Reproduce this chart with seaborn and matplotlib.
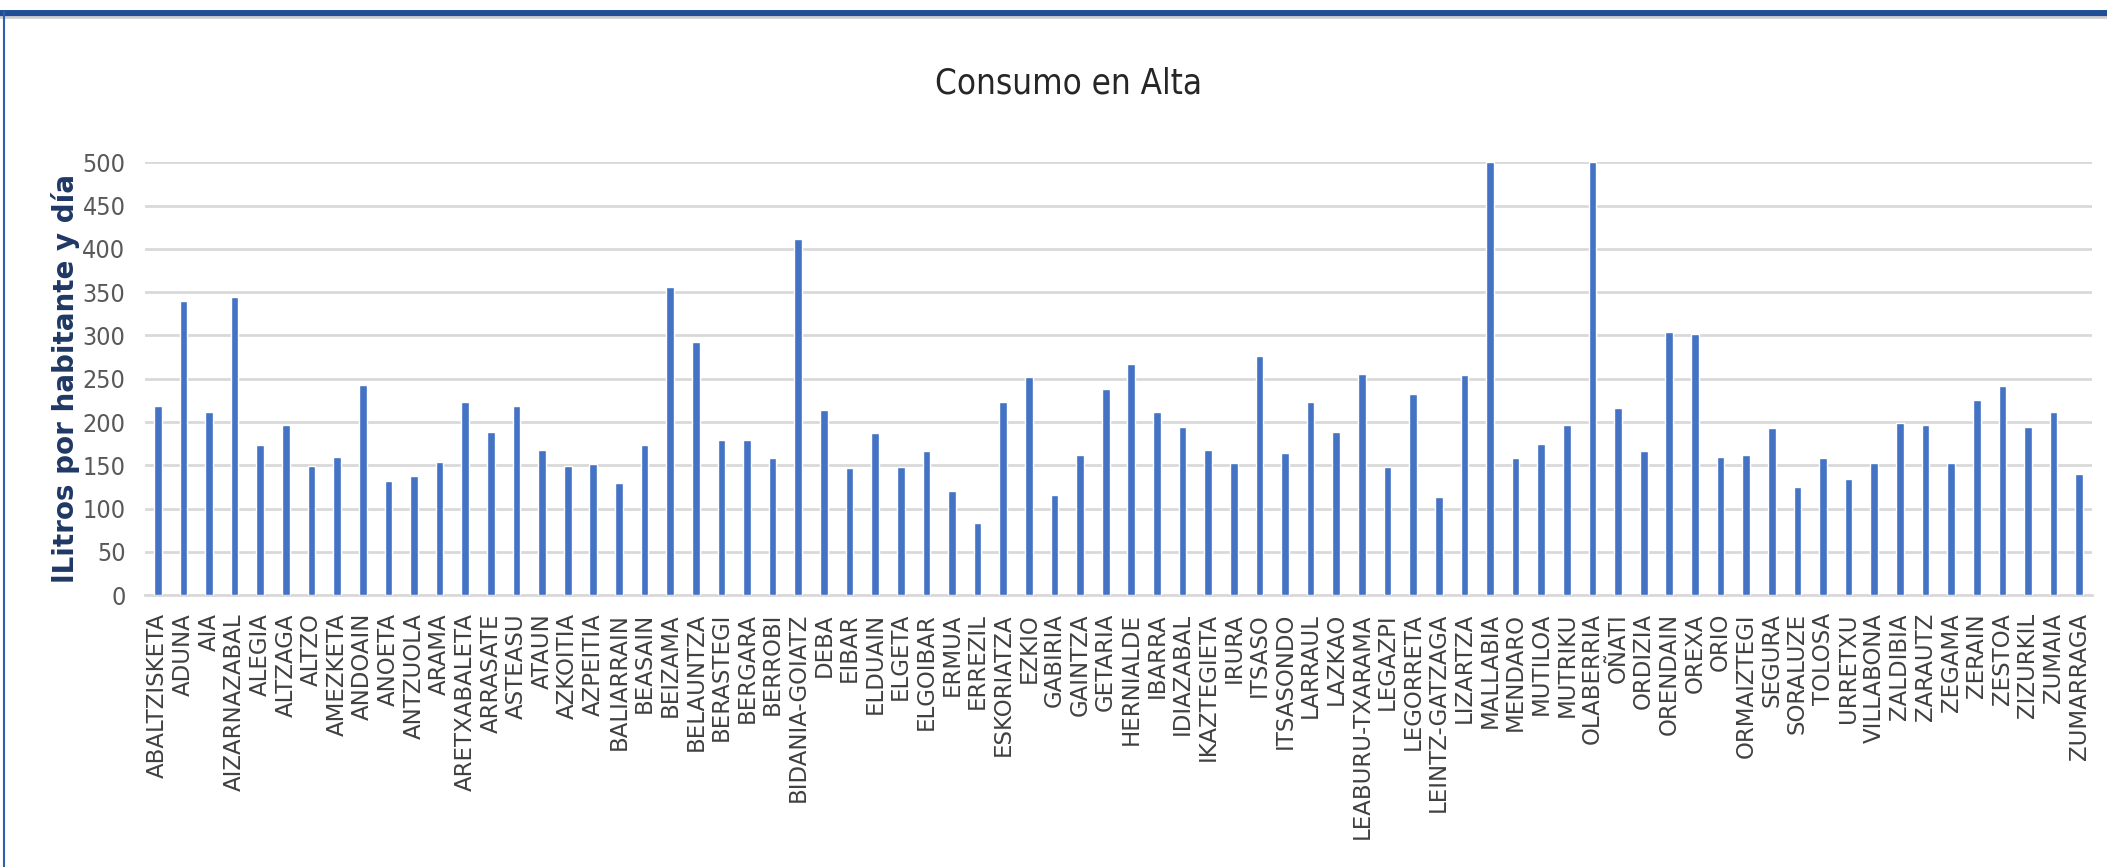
import pandas as pd
import matplotlib
matplotlib.use('Agg')
import matplotlib.pyplot as plt
import seaborn as sns
from matplotlib.lines import Line2D

# Municipalities (Gipuzkoa) and consumption in litres per inhabitant and day
municipios = [
    'ABALTZISKETA', 'ADUNA', 'AIA', 'AIZARNAZABAL', 'ALEGIA', 'ALTZAGA', 'ALTZO',
    'AMEZKETA', 'ANDOAIN', 'ANOETA', 'ANTZUOLA', 'ARAMA', 'ARETXABALETA', 'ARRASATE',
    'ASTEASU', 'ATAUN', 'AZKOITIA', 'AZPEITIA', 'BALIARRAIN', 'BEASAIN', 'BEIZAMA',
    'BELAUNTZA', 'BERASTEGI', 'BERGARA', 'BERROBI', 'BIDANIA-GOIATZ', 'DEBA', 'EIBAR',
    'ELDUAIN', 'ELGETA', 'ELGOIBAR', 'ERMUA', 'ERREZIL', 'ESKORIATZA', 'EZKIO',
    'GABIRIA', 'GAINTZA', 'GETARIA', 'HERNIALDE', 'IBARRA', 'IDIAZABAL', 'IKAZTEGIETA',
    'IRURA', 'ITSASO', 'ITSASONDO', 'LARRAUL', 'LAZKAO', 'LEABURU-TXARAMA', 'LEGAZPI',
    'LEGORRETA', 'LEINTZ-GATZAGA', 'LIZARTZA', 'MALLABIA', 'MENDARO', 'MUTILOA',
    'MUTRIKU', 'OLABERRIA', 'OÑATI', 'ORDIZIA', 'ORENDAIN', 'OREXA', 'ORIO',
    'ORMAIZTEGI', 'SEGURA', 'SORALUZE', 'TOLOSA', 'URRETXU', 'VILLABONA', 'ZALDIBIA',
    'ZARAUTZ', 'ZEGAMA', 'ZERAIN', 'ZESTOA', 'ZIZURKIL', 'ZUMAIA', 'ZUMARRAGA',
]
consumo = [
    219, 340, 212, 344, 173, 197, 149, 160, 243, 132, 138, 154, 223, 189,
    219, 168, 149, 151, 129, 173, 356, 293, 179, 179, 158, 411, 214, 147,
    187, 148, 166, 120, 83, 223, 252, 116, 162, 238, 267, 211, 194, 168,
    153, 276, 164, 223, 188, 256, 148, 232, 113, 254, 500, 158, 175,
    197, 500, 216, 166, 304, 302, 160, 162, 193, 125, 158, 134, 153, 199,
    197, 153, 225, 242, 194, 212, 140,
]
yticks = [0, 50, 100, 150, 200, 250, 300, 350, 400, 450, 500]

df = pd.DataFrame({'municipio': municipios, 'consumo': consumo})

sns.set_style('white')
plt.rcParams['font.family'] = ['DejaVu Sans']

fig = plt.figure(figsize=(21.07, 8.67), dpi=100)
ax = fig.add_axes([0.0688, 0.3137, 0.9241, 0.4989])

sns.barplot(data=df, x='municipio', y='consumo', color='#4472C4', saturation=1,
            width=0.3, ax=ax, zorder=3)

ax.set_ylim(0, 500)
ax.set_xlim(-0.5, len(municipios) - 0.5)
ax.set_yticks(yticks)
ax.set_yticklabels([str(v) for v in yticks], fontsize=18, color='#595959',
                   fontstretch='condensed')
ax.set_xticks(range(len(municipios)))
ax.set_xticklabels(municipios, rotation=90, fontsize=16.5, color='#404040')
ax.tick_params(axis='y', length=0, pad=14)
ax.tick_params(axis='x', length=0, pad=13)
ax.yaxis.grid(True, color='#D9D9D9', linewidth=2, zorder=0)
ax.set_axisbelow(True)
for s in ['top', 'right', 'left']:
    ax.spines[s].set_visible(False)
ax.spines['bottom'].set_color('#D9D9D9')
ax.spines['bottom'].set_linewidth(2)
ax.set_xlabel('')
ax.set_ylabel('lLitros por habitante y día', fontsize=20, fontweight='bold',
              color='#1F3864', labelpad=2)

fig.text(0.507, 0.904, 'Consumo en Alta', ha='center', va='center',
         fontsize=25, color='#262626', fontstretch='condensed')

# blue frame of the original slide
fig.add_artist(Line2D([0, 1], [0.9855, 0.9855], color='#1F4E96', linewidth=5))
fig.add_artist(Line2D([0, 1], [0.980, 0.980], color='#D0D0D0', linewidth=2))
fig.add_artist(Line2D([0.0018, 0.0018], [0, 0.986], color='#2E5FB0', linewidth=1.5))

fig.savefig('out.png', dpi=100)
